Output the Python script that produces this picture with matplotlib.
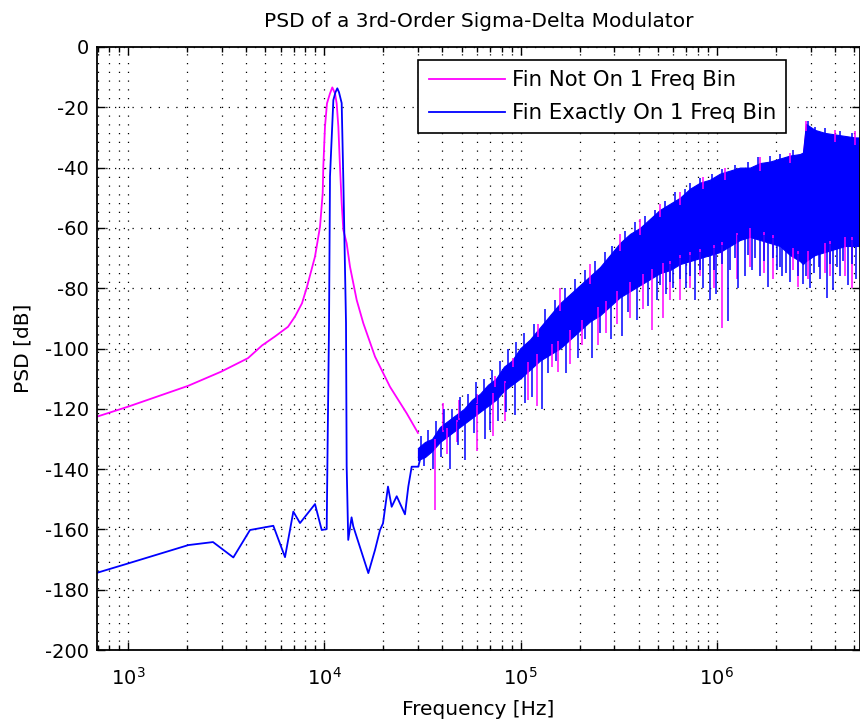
import numpy as np
import matplotlib
matplotlib.use("Agg")
import matplotlib.pyplot as plt
from matplotlib.ticker import LogLocator, FixedLocator, NullFormatter

plt.rcParams['font.family'] = ['DejaVu Sans']
plt.rcParams['axes.unicode_minus'] = False
plt.rcParams['mathtext.default'] = 'regular'

# ---- data ----
# Fin not on a bin (magenta): smooth leakage skirts around the tone
mag_freq = [695, 1000, 2021, 2977, 4086, 4815, 5609, 6533, 7091, 7698, 8165, 8967, 9509,
            9813, 9884, 10080, 10320, 10690, 10985, 11340, 11560, 11790, 12020, 12260,
            12500, 13000, 13520, 14620, 15800, 18130, 21610, 26290, 30010]
mag_db = [-122.6, -119.3, -112.4, -107.7, -103.2, -99.0, -96.0, -92.8, -89.4, -85.0, -79.5,
          -69.5, -59.6, -48.5, -39.7, -26.4, -18.7, -15.4, -13.4, -15.4, -18.7, -26.4, -39.7,
          -51.8, -60.7, -65.1, -72.9, -83.9, -91.6, -102.7, -112.7, -121.5, -128.0]

# Fin exactly on a bin (blue): low floor, narrow tone
blu_freq = [695, 1000, 2030, 2710, 3440, 4183, 5499, 6307, 6953, 7520, 8967, 9700, 10285,
            10380, 10570, 10690, 11120, 11400, 11650, 11880, 12260, 12500, 12900, 13000,
            13240, 13770, 14050, 16760, 18130, 19220, 19910, 21110, 22040, 23380, 25760,
            26790, 27870, 30120, 31930]
blu_db = [-174.4, -171.3, -165.2, -164.2, -169.3, -160.2, -158.8, -169.2, -154.1, -157.9,
          -151.6, -160.2, -159.9, -136, -92, -43, -17.6, -15, -13.7, -15, -18.6, -44, -91.5,
          -139, -163.5, -156, -159, -174.5, -166.8, -160.2, -158, -145.8, -152.5, -149, -155,
          -145.8, -139.2, -139.2, -132.5]

# Shaped quantisation-noise band (envelopes of the dense PSD traces)
noise_freq = [30010, 32580, 35380, 38860, 42680, 46880, 51480, 56550, 62120, 68230,
              74950, 82320, 90430, 99330, 111700, 125600, 141200, 158800, 178500, 200700,
              225700, 253800, 285400, 320900, 360800, 405800, 456300, 513100, 576900, 648600,
              729500, 820300, 922200, 1037000, 1166000, 1311000, 1474000, 1658000, 1864000, 2096000,
              2357000, 2650000, 2745000, 2843000, 3160000, 3554000, 3996000, 4493000, 5052000, 5486000]
blu_top = [-133, -131, -130, -126, -124, -122, -120, -117, -115, -112,
           -110, -106, -104, -100, -97, -93, -89, -85, -82, -79,
           -76, -73, -69, -65, -62, -60, -57, -54, -52, -50,
           -47, -45, -44, -42, -41, -40, -40, -38.5, -38, -37,
           -36, -35.5, -35, -25.5, -27.5, -28.5, -29, -29.5, -30, -30]
blu_bot = [-137, -136, -134, -131, -129, -127, -125, -123, -121, -119,
           -117, -114, -112, -110, -107, -104, -102, -100, -97, -94,
           -91, -89, -86, -83, -81, -79, -77, -75, -74, -72,
           -71, -70, -69, -68, -66, -64, -63, -64, -65, -66,
           -69, -71, -72, -71, -69, -68, -67, -66, -66, -66]
mag_top = [-133.5, -131.5, -130.5, -126.5, -124.5, -122.5, -120.5, -117.5, -115.5, -112.5,
           -110.5, -106.5, -104.5, -100.5, -97.5, -93.5, -89.5, -85.5, -82.5, -79.5,
           -76.5, -73.5, -69.5, -65.5, -62.5, -60.5, -57.5, -54.5, -52.5, -50.5,
           -47.5, -45.5, -44.5, -42.5, -41.5, -40.5, -40.5, -39, -38.5, -37.5,
           -36.5, -36, -35.5, -26, -28, -29, -29.5, -30, -30.5, -30.5]
mag_bot = [-136, -135, -133, -130, -128, -126, -124, -122, -120, -118,
           -116, -113, -111, -109, -106, -103, -101, -99, -96, -93,
           -90, -88, -85, -82, -80, -78, -76, -74, -73, -71,
           -70, -69, -68, -67, -65, -63, -62, -63, -64, -65,
           -68, -70, -71, -70, -68, -67, -66, -65, -65, -65]

# Downward spikes of each trace
blu_spk_f = [32200, 35800, 39320, 43690, 48000, 52100, 57870, 65880, 69880, 76700,
             84280, 93650, 105300, 114300, 128500, 137900, 151500, 170300, 196100, 212800,
             231000, 253800, 288800, 328500, 352500, 391700, 445700, 495200, 513000, 550400,
             576900, 597500, 648600, 695900, 729300, 773300, 820000, 849400, 922100, 966500,
             989500, 1062000, 1139000, 1166000, 1237000, 1281000, 1390000, 1440000, 1509000,
             1566000, 1658000, 1737000, 1821000, 1931000, 2024000, 2096000, 2146000, 2260000,
             2357000, 2589000, 2745000, 2844000, 2980000, 3123000, 3300000, 3351000, 3637000,
             3768000, 3903000, 4100000, 4237000, 4400000, 4654000, 4877000, 5112000]
blu_spk_db = [-139, -140, -136, -140, -132, -137, -128, -130, -127, -124,
              -121, -122, -118, -116, -120, -108, -104, -108, -103, -97,
              -103, -95, -97, -96, -88, -90.5, -86, -84, -79, -82,
              -78, -80, -77, -80, -76, -84, -74, -80, -84, -74,
              -82, -72, -91, -74, -70, -80, -76, -69, -74,
              -70, -76, -71, -79.5, -70, -74, -73, -76, -75,
              -78, -76, -78.5, -76, -80, -75, -73, -77, -83.4,
              -72, -80.6, -73, -76, -71, -79, -72, -77]
mag_spk_f = [36640, 42180, 47420, 59980, 72340, 83270, 109100, 121200, 144500, 155100,
             178500, 205500, 247900, 272300, 309800, 360800, 420200, 467100, 531400, 576900,
             648600, 729300, 820000, 966500, 1062000, 1266000, 1474000, 1737000, 1931000, 2441000,
             2589000, 2911000, 3553000, 3768000, 4493000, 4877000]
mag_spk_db = [-153.6, -135, -131, -134, -129, -124, -117, -119, -106, -107.7,
              -105, -99, -99, -95, -92, -90, -87, -94, -90, -84,
              -84, -80, -76, -80, -93.3, -77, -73, -75, -77, -74,
              -79.5, -77, -75, -76, -76, -80]
# Upward jags on the top edge of the band
blu_up_f = [31100, 33750, 37070, 40720, 44730, 49140, 53960, 59280, 65110, 71510,
            78530, 86270, 94760, 104100, 117000, 133100, 149700, 168300, 189300, 212800,
            239300, 269200, 292200, 340300, 382600, 430100, 483700, 544000, 611700, 687800,
            729300, 820000, 944100, 1062000, 1237000, 1440000, 1619000, 1864000, 2096000, 2441000,
            2911000, 3160000, 3553000, 4237000, 4877000]
blu_up_db = [-129, -127, -124, -120, -120, -116, -115, -111, -110, -107,
             -104, -100, -98, -95, -92, -87, -84, -80, -77, -74,
             -71, -68, -66, -61, -58, -56, -54, -51, -48, -47,
             -45, -43.5, -42, -40.5, -39, -38, -36.5, -36, -35.5, -34,
             -24.5, -26.5, -27, -28, -28.5]
mag_up_f = [40240, 48570, 59980, 74070, 91490, 122700, 158800, 225700, 320900, 405700,
            513000, 648600, 849400, 1100000, 1658000, 2357000, 2844000, 3995000, 5052000]
mag_up_db = [-118, -117, -115, -109, -103, -92, -80, -72, -62, -57,
             -52, -48, -43, -40, -36.5, -35, -24.5, -27.5, -28]

labels = ['Fin Not On 1 Freq Bin', 'Fin Exactly On 1 Freq Bin']
yticks = list(range(-200, 1, 20))

MAG = '#FF00FF'
BLU = '#0000FF'

fig = plt.figure(figsize=(8.6, 7.2), dpi=100)
ax = fig.add_axes([97 / 860, 70 / 720, 763 / 860, 603 / 720])
ax.set_xscale('log')


def draw_series(freq, db, top, bot, spf, spdb, upf, updb, color, label):
    lf = np.log10(noise_freq)
    ax.plot(freq, db, color=color, lw=1.3, label=label)
    ax.fill_between(noise_freq, bot, top, color=color, lw=0.8, edgecolor=color)
    base_b = np.interp(np.log10(spf), lf, bot)
    ax.vlines(spf, spdb, base_b + 2, color=color, lw=1.1)
    base_t = np.interp(np.log10(upf), lf, top)
    ax.vlines(upf, base_t - 2, updb, color=color, lw=1.1)


draw_series(mag_freq, mag_db, mag_top, mag_bot, mag_spk_f, mag_spk_db,
            mag_up_f, mag_up_db, MAG, labels[0])
draw_series(blu_freq, blu_db, blu_top, blu_bot, blu_spk_f, blu_spk_db,
            blu_up_f, blu_up_db, BLU, labels[1])

ax.set_xlim(695, 5.36e6)
ax.set_ylim(-200, 0)
ax.yaxis.set_major_locator(FixedLocator(yticks))
ax.xaxis.set_major_locator(LogLocator(base=10, numticks=20))
ax.xaxis.set_minor_locator(LogLocator(base=10, subs=np.arange(2, 10), numticks=100))
ax.xaxis.set_minor_formatter(NullFormatter())

dots = (0, (1, 6))
ax.set_axisbelow(True)
ax.grid(True, which='major', linestyle=dots, color='k', lw=0.9)
ax.grid(True, which='minor', axis='x', linestyle=dots, color='k', lw=0.9)

ax.tick_params(which='both', direction='in', top=True, right=True, labelsize=14, width=1.0)
ax.tick_params(which='major', length=6)
ax.tick_params(which='minor', length=3.5)
ax.tick_params(axis='y', pad=6)
ax.tick_params(axis='x', pad=12)
for s in ax.spines.values():
    s.set_linewidth(1.3)
    s.set_color('k')

ax.set_title('PSD of a 3rd-Order Sigma-Delta Modulator', fontsize=14.5, pad=14.5)
ax.set_xlabel('Frequency [Hz]', fontsize=14.5, labelpad=8)
ax.set_ylabel('PSD [dB]', fontsize=14.5, labelpad=9)

leg = ax.legend(loc='upper right', bbox_to_anchor=(0.903, 0.978), frameon=True,
                fancybox=False, edgecolor='k', framealpha=1, borderaxespad=0,
                handlelength=3.6, handletextpad=0.3, labelspacing=0.6,
                borderpad=0.48, fontsize=15.3)
leg.get_frame().set_linewidth(1.2)
for h in leg.get_lines():
    h.set_linewidth(1.3)

fig.savefig('out.png', dpi=100)
